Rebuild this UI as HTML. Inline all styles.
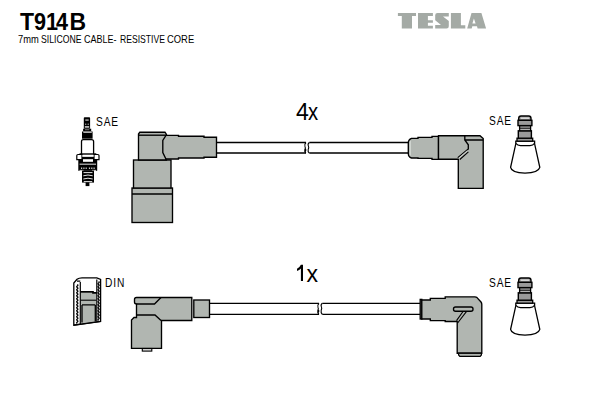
<!DOCTYPE html>
<html><head><meta charset="utf-8">
<style>
html,body{margin:0;padding:0;background:#fff;}
body{width:600px;height:400px;overflow:hidden;position:relative;font-family:"Liberation Sans",sans-serif;}
svg{position:absolute;left:0;top:0;}
.t{position:absolute;white-space:nowrap;color:#000;line-height:1;}
</style></head><body>
<svg width="600" height="400" viewBox="0 0 600 400">
<defs>
  <g id="sae">
    <!-- cone -->
    <path fill="#fff" stroke="#000" stroke-width="1.3" d="M515.8,141.2 V143.8 L510.6,167.3 Q511.5,172.6 525,173.2 Q538.5,172.6 539.8,167.3 L534.6,143.8 V141.2 Z"/>
    <path fill="none" stroke="#000" stroke-width="1.1" d="M515.9,143.4 Q517.5,145.6 520.5,145.6 H530 Q533,145.6 534.5,143.4"/>
    <!-- flange -->
    <rect x="517" y="138.2" width="15.7" height="3" fill="#9a9a9a" stroke="#000" stroke-width="1.3"/>
    <!-- cylinder -->
    <rect x="518.3" y="130.8" width="13.1" height="7.4" fill="#9a9a9a" stroke="#000" stroke-width="1.4"/>
    <!-- neck -->
    <rect x="519.6" y="125.6" width="11" height="5.2" fill="#b4b4b4" stroke="#000" stroke-width="1.3"/>
    <line x1="519.6" y1="128.2" x2="530.6" y2="128.2" stroke="#000" stroke-width="1"/>
    <!-- ring -->
    <rect x="518" y="120.3" width="13.9" height="5.3" fill="#9a9a9a" stroke="#000" stroke-width="1.4"/>
    <!-- nub -->
    <path fill="#a8a8a8" stroke="#000" stroke-width="1.4" d="M518.7,120.3 V118.5 Q518.7,116 521,116 H528.7 Q531,116 531,118.5 V120.3 Z"/>
    <line x1="521" y1="118.2" x2="529" y2="118.2" stroke="#eee" stroke-width="1"/>
  </g>
</defs>

<!-- TESLA logo -->
<path fill="#a4aaa5" fill-rule="evenodd" d="M397.9,12.9 H416 V15.9 H412 V28.5 H401.8 V15.9 H397.9 Z
 M418,13 H432.9 V15.9 H427.9 V20.2 H432.9 V22.7 H427.9 V25.7 H432.9 V28.5 H418 Z
 M437.5,13.1 H448.8 V16.6 H443 L448.8,21 V26.3 Q448.8,28.5 446.5,28.5 H435.2 V25 H441 L435.2,20.3 V15.3 Q435.2,13.1 437.5,13.1 Z
 M450.9,12.9 H460.9 V25.2 H465.3 V28.5 H450.9 Z
 M471.5,13.1 H481.4 L486.1,28.5 H477.6 L477,26.2 H472.3 L471.7,28.5 H467.2 Z M473.9,18.6 L475.6,23.6 H472.4 Z"/>

<g fill="#b1b6b1" stroke="#000" stroke-width="1.35" stroke-linejoin="miter">
  <!-- ===== TOP ROW LEFT CONNECTOR ===== -->
  <rect x="132" y="188" width="40.5" height="34.5"/>
  <line x1="132" y1="194" x2="172.5" y2="194"/>
  <rect x="133.5" y="160" width="37.5" height="28"/>
  <path d="M158,135.3 H178.5 V136.2 H204 V137.2 H216.5 V157.2 H204 V158 H178.5 V159 H158 Z"/>
  <path d="M138.5,160 V134 L139.8,132.2 H165 L166.5,134.5 L162.8,140.5 V152.5 L165.8,158.8 L166.3,160 Z"/>
  <line x1="138.5" y1="135.2" x2="166" y2="135.2"/>
  <!-- cable top -->
  <path fill="none" d="M216.5,142.5 H306 M216.5,153 H306 M309.3,142.5 H408 M309.3,153 H408"/>
  <path fill="none" stroke-width="1.1" d="M306,142.5 Q304,144.5 305,146.5 Q305.8,148 304.8,149.8 Q304.2,152 306,153 M305.2,148.5 Q306.6,150 305.2,151.8 M309.3,142.5 Q307.4,144 308.4,146 Q309.2,147.5 308.2,149.5 Q307.6,151.8 309.3,153"/>
  <!-- ===== TOP ROW RIGHT CONNECTOR ===== -->
  <path d="M438.5,136.3 H432 V137.4 H418 V138.3 H411.5 Q408.3,139.5 408.3,143 V153.5 Q408.3,157 411.5,158 H418 V158.4 H432 V159.3 H438.5 Z"/>
  <path fill="none" stroke="#d8dcd8" stroke-width="1" d="M410.3,141 V155.5"/>
  <path d="M438.5,135.7 H480 L483.2,138.5 V188.4 H458.3 V159.2 H438.5 Z"/>
  <path fill="none" d="M464.8,135.5 V140 L468.3,144.8 V149 L457.8,157.8 M464.8,140 H483.2"/>
  <path fill="none" stroke="#d0d4d0" stroke-width="1.1" d="M467.6,150.6 L458.6,158.4"/>
  <path fill="none" stroke-width="1.1" d="M468.4,151.8 L459.8,159.5"/>

  <!-- ===== BOTTOM ROW LEFT CONNECTOR ===== -->
  <g stroke="none">
    <rect x="154" y="297.5" width="38" height="23"/>
    <rect x="136.5" y="303" width="19" height="15"/>
    <path d="M131.5,320 L134,317.5 H158.5 L161.5,320.5 V348.3 H131.5 Z"/>
    <path d="M134.5,299.5 Q134.5,297.5 136.5,297.5 H161 L154.5,304 H136.5 Q134.5,304 134.5,302 Z"/>
  </g>
  <path fill="none" d="M134.5,299.5 Q134.5,297.5 136.5,297.5 H191.8 V320.5 H161.5 V348.3 H131.5 V320 L134,317.5 H136.5 V304 Q134.5,304 134.5,302 Z"/>
  <path fill="none" d="M136.5,304 H154.5 L161,297.5 M136.5,315 H155 L161,320.5"/>
  <rect x="142.3" y="348.5" width="9.5" height="2.6" fill="#ddd" stroke-width="1.1"/>
  <rect x="193.8" y="300" width="15.7" height="17.5"/>
  <!-- cable bottom -->
  <path fill="none" d="M209.5,303.3 H319 M209.5,314.3 H319 M322.3,303.3 H420.2 M322.3,314.3 H420.2"/>
  <path fill="none" stroke-width="1.1" d="M319,303.3 Q317,305.3 318,307.3 Q318.8,308.8 317.8,310.6 Q317.2,312.8 319,314.3 M318.2,309.3 Q319.6,310.8 318.2,312.6 M322.3,303.3 Q320.4,304.8 321.4,306.8 Q322.2,308.3 321.2,310.3 Q320.6,312.6 322.3,314.3"/>

  <!-- ===== BOTTOM ROW RIGHT CONNECTOR ===== -->
  <rect x="420.2" y="299.4" width="1.6" height="19.6"/>
  <path d="M421.8,300 H430.3 V298.3 H445.2 V296.8 H474.8 Q476.2,296.8 477,297.6 L481,302 Q481.8,303 481.8,304.5 V353.2 H457.2 V321.5 H445.2 V320.6 H430.3 V319 H421.8 Z"/>
  <path stroke-width="1.2" d="M458.6,353.2 V355 L459.8,356.3 H480.2 L481.4,355 V353.2"/>
  <path fill="none" d="M457.2,353.2 H481.8"/>
  <rect x="453.5" y="307" width="19.5" height="4.2" rx="2"/>
  <path fill="none" stroke-width="1.1" d="M463.2,311.3 L456.5,320.6 M466.6,311.3 L457.6,323"/>
</g>

<use href="#sae"/>
<use href="#sae" transform="translate(0,162)"/>

<!-- spark plug -->
<g>
  <rect x="83.8" y="117.2" width="6.3" height="11.5" rx="0.8" fill="#000"/>
  <rect x="85.3" y="119.3" width="3.4" height="1.6" fill="#9a9a9a"/>
  <rect x="85" y="123.6" width="1.3" height="1.3" fill="#9a9a9a"/>
  <rect x="87.6" y="123.6" width="1.3" height="1.3" fill="#9a9a9a"/>
  <rect x="84.8" y="126" width="4.4" height="1.8" fill="#b5b5b5"/>
  <rect x="83.1" y="128.7" width="8.1" height="2.3" fill="#000"/>
  <rect x="85" y="129.3" width="4.3" height="0.9" fill="#888"/>
  <rect x="82" y="131.5" width="10.6" height="7.2" fill="#000"/>
  <rect x="83.3" y="132" width="8.5" height="0.7" fill="#fff"/>
  <path fill="#fff" stroke="#000" stroke-width="1.3" d="M81.5,154 V141.5 Q81.5,139.6 83.3,139.6 H91.6 Q93.6,139.6 93.6,141.5 V154"/>
  <!-- hex -->
  <rect x="78.3" y="156.5" width="18.9" height="14.3" fill="#000"/>
  <path fill="#fff" stroke="#000" stroke-width="1.2" d="M76.8,159.6 V155.6 Q76.8,154.5 78,154.5 H82 V159.6 Z M99,159.6 V155.6 Q99,154.5 97.8,154.5 H94 V159.6 Z"/>
  <rect x="79.5" y="153.3" width="16.8" height="1.4" fill="#000"/>
  <rect x="82.3" y="155.2" width="11.3" height="1.5" fill="#fff"/>
  <rect x="83" y="159.2" width="10" height="2.6" fill="#fff"/>
  <rect x="79.6" y="163.7" width="16.4" height="0.9" fill="#fff"/>
  <rect x="81" y="167.6" width="1.2" height="1.2" fill="#fff"/>
  <rect x="83.3" y="167.6" width="1.2" height="1.2" fill="#fff"/>
  <rect x="85.6" y="167.6" width="1.2" height="1.2" fill="#fff"/>
  <rect x="88.9" y="167.6" width="1.2" height="1.2" fill="#fff"/>
  <rect x="91.2" y="167.6" width="1.2" height="1.2" fill="#fff"/>
  <rect x="93.5" y="167.6" width="1.2" height="1.2" fill="#fff"/>
  <rect x="79.5" y="169.9" width="4" height="0.8" fill="#fff"/>
  <rect x="92" y="169.9" width="4" height="0.8" fill="#fff"/>
  <!-- thread -->
  <rect x="82" y="170.6" width="12" height="12" fill="#000"/>
  <path fill="none" stroke="#fff" stroke-width="0.9" d="M83.5,172.6 H92.5 M83.3,175.8 Q88,174.2 92.7,175.8 M83.3,179 Q88,177.4 92.7,179 M83.8,181.6 H92.2"/>
  <rect x="85.6" y="182.3" width="3.8" height="3.8" fill="#000"/>
</g>

<!-- DIN plug -->
<g stroke="#000" fill="none">
  <path fill="#fff" stroke-width="1.3" d="M73.8,325.2 V283 L77,279.3 Q79,277.8 82,277.8 H96.8 L100.6,279.4 V321.4 Z"/>
  <path fill="#b1b6b1" stroke="none" d="M80.8,292.8 H96.3 V321.5 L80.8,323.5 Z"/>
  <path stroke-width="1.2" d="M80.3,282 V324.3 M96.8,279.6 V321.6 M77,281.2 H80.3"/>
  <path stroke-width="1.7" d="M80.3,291.9 H93 V292.9 H96.8"/>
  <path stroke-width="1.1" d="M80.8,300.2 H96.3"/>
  <path stroke-width="1.3" d="M82,304.9 H95.3 M82,305 V322.5 M95.3,305 V321.4"/>
  <path stroke-width="1.2" d="M73.8,325.2 L100.6,321.4"/>
  <path stroke-width="1.3" d="M77.3,284.5 q1.20,0.75 0,1.50 q-1.20,0.75 0,1.50 q1.20,0.75 0,1.50 q-1.20,0.75 0,1.50 q1.20,0.75 0,1.50 q-1.20,0.75 0,1.50 q1.20,0.75 0,1.50 q-1.20,0.75 0,1.50 q1.20,0.75 0,1.50 q-1.20,0.75 0,1.50 q1.20,0.75 0,1.50 q-1.20,0.75 0,1.50 q1.20,0.75 0,1.50 q-1.20,0.75 0,1.50 q1.20,0.75 0,1.50 q-1.20,0.75 0,1.50 q1.20,0.75 0,1.50 q-1.20,0.75 0,1.50 q1.20,0.75 0,1.50 q-1.20,0.75 0,1.50 q1.20,0.75 0,1.50 q-1.20,0.75 0,1.50 q1.20,0.75 0,1.50 q-1.20,0.75 0,1.50 q1.20,0.75 0,1.50 q-1.20,0.75 0,1.50 M98.6,281.5 q1.20,0.75 0,1.50 q-1.20,0.75 0,1.50 q1.20,0.75 0,1.50 q-1.20,0.75 0,1.50 q1.20,0.75 0,1.50 q-1.20,0.75 0,1.50 q1.20,0.75 0,1.50 q-1.20,0.75 0,1.50 q1.20,0.75 0,1.50 q-1.20,0.75 0,1.50 q1.20,0.75 0,1.50 q-1.20,0.75 0,1.50 q1.20,0.75 0,1.50 q-1.20,0.75 0,1.50 q1.20,0.75 0,1.50 q-1.20,0.75 0,1.50 q1.20,0.75 0,1.50 q-1.20,0.75 0,1.50 q1.20,0.75 0,1.50 q-1.20,0.75 0,1.50 q1.20,0.75 0,1.50 q-1.20,0.75 0,1.50 q1.20,0.75 0,1.50 q-1.20,0.75 0,1.50 q1.20,0.75 0,1.50 q-1.20,0.75 0,1.50"/>
</g>
<path fill="#000" d="M300.9,264.8 H303 V281 H300.9 V268.6 Q299.3,270.2 297,271 V268.8 Q299.6,267.6 300.9,264.8 Z"/>
</svg>
<div class="t" style="left:20px;top:11px;font-size:23px;font-weight:bold;">T</div>
<div class="t" style="left:33.5px;top:11px;font-size:23px;font-weight:bold;transform:scaleX(0.94);transform-origin:0 0;">9</div>
<div class="t" style="left:46.2px;top:11px;font-size:23px;font-weight:bold;transform:scaleX(0.94);transform-origin:0 0;">1</div>
<div class="t" style="left:55.6px;top:11px;font-size:23px;font-weight:bold;transform:scaleX(0.94);transform-origin:0 0;">4</div>
<div class="t" style="left:69.5px;top:11px;font-size:23px;font-weight:bold;">B</div>
<div class="t" style="left:17.85px;top:35.1px;font-size:10.4px;transform:scaleX(0.898);transform-origin:0 0;">7mm</div>
<div class="t" style="left:41.16px;top:35.1px;font-size:10.4px;transform:scaleX(0.837);transform-origin:0 0;">SILICONE</div>
<div class="t" style="left:83.63px;top:35.1px;font-size:10.4px;transform:scaleX(0.867);transform-origin:0 0;">CABLE-</div>
<div class="t" style="left:120.17px;top:35.1px;font-size:10.4px;transform:scaleX(0.829);transform-origin:0 0;">RESISTIVE</div>
<div class="t" style="left:166.59px;top:35.1px;font-size:10.4px;transform:scaleX(0.906);transform-origin:0 0;">CORE</div>

<div class="t" style="left:296px;top:101px;font-size:23px;">4</div>
<div class="t" style="left:307.6px;top:101px;font-size:23px;transform:scaleX(0.88);transform-origin:0 0;">x</div>
<div class="t" style="left:306.4px;top:263px;font-size:23px;">x</div>
<div class="t" style="left:96px;top:116px;font-size:12px;letter-spacing:1px;transform:scaleX(0.85);transform-origin:0 0;">SAE</div>
<div class="t" style="left:488.5px;top:115px;font-size:12px;letter-spacing:1px;transform:scaleX(0.85);transform-origin:0 0;">SAE</div>
<div class="t" style="left:488.5px;top:277px;font-size:12px;letter-spacing:1px;transform:scaleX(0.85);transform-origin:0 0;">SAE</div>
<div class="t" style="left:105px;top:277px;font-size:12px;letter-spacing:1px;transform:scaleX(0.85);transform-origin:0 0;">DIN</div>
</body></html>
